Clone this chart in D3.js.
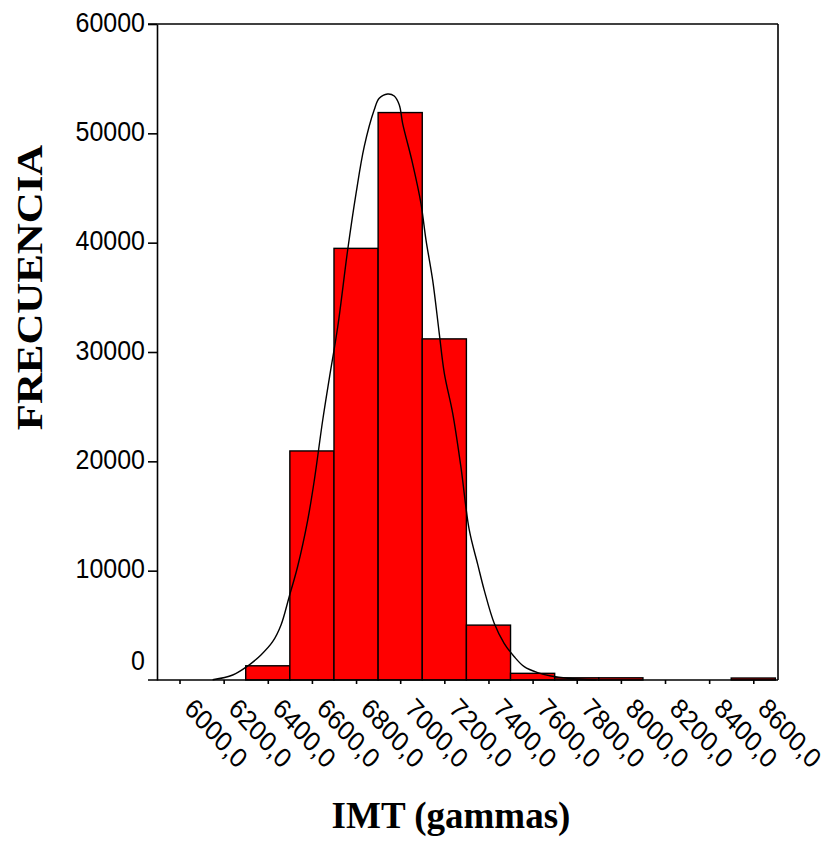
<!DOCTYPE html>
<html>
<head>
<meta charset="utf-8">
<script src="https://cdn.jsdelivr.net/npm/d3@7"></script>
<style>
  body { margin: 0; background: #fff; }
  svg { display: block; }
  .tick line { stroke: #000; stroke-width: 1.6; }
</style>
</head>
<body>
<svg id="chart" width="828" height="843"></svg>
<script>
// bin centres (IMT, gammas) and counts per bin
var binCenters = [6400, 6600, 6800, 7000, 7200, 7400, 7600, 7800, 8000, 8200, 8400, 8600];
var binCounts  = [1300, 20950, 39480, 51900, 31200, 5020, 610, 200, 200, 0, 0, 180];
var binWidth = 200;

// fitted normal curve
var curveX = [6150, 6241, 6309, 6369, 6422, 6460, 6497, 6535, 6581, 6611, 6649, 6679, 6717, 6762,
              6800, 6837, 6882, 6905, 6943, 6973, 6996, 7011, 7056, 7094, 7117, 7147, 7177, 7200,
              7238, 7275, 7313, 7351, 7381, 7426, 7471, 7517, 7562, 7623, 7683, 7759, 7890];
var curveY = [20, 457, 1280, 2290, 3500, 5030, 7620, 10360, 14630, 18290, 23780, 27620, 32310, 39330,
              44510, 48780, 52130, 53200, 53600, 53420, 52600, 50920, 47260, 43600, 40240, 36590, 31710, 28050,
              24390, 19510, 13720, 10600, 8200, 5190, 3360, 2130, 1220, 670, 370, 160, 20];

// axis ticks
var xTicks = [6000, 6200, 6400, 6600, 6800, 7000, 7200, 7400, 7600, 7800, 8000, 8200, 8400, 8600];
var yTicks = [0, 10000, 20000, 30000, 40000, 50000, 60000];

var svg = d3.select("#chart");
var plotLeft = 157, plotRight = 778, plotTop = 24, plotBottom = 680;

var x = d3.scaleLinear().domain([5898, 8712]).range([plotLeft, plotRight]);
var y = d3.scaleLinear().domain([0, 60000]).range([plotBottom, plotTop]);

// bars
svg.append("g").selectAll("rect")
    .data(binCenters)
  .enter().append("rect")
    .attr("x", function(d) { return x(d - binWidth / 2); })
    .attr("width", function(d) { return x(d + binWidth / 2) - x(d - binWidth / 2); })
    .attr("y", function(d, i) { return y(binCounts[i]); })
    .attr("height", function(d, i) { return y(0) - y(binCounts[i]); })
    .attr("fill", "#ff0000")
    .attr("stroke", "#000")
    .attr("stroke-width", 1.4)
    .style("display", function(d, i) { return binCounts[i] > 0 ? null : "none"; });

// normal curve
var line = d3.line()
    .x(function(d) { return x(d); })
    .y(function(d, i) { return y(curveY[i]); })
    .curve(d3.curveCatmullRom);
svg.append("path")
    .attr("d", line(curveX))
    .attr("fill", "none")
    .attr("stroke", "#000")
    .attr("stroke-width", 1.4);

// frame
var frame = svg.append("g").attr("stroke", "#000").attr("stroke-width", 1.6);
frame.append("line").attr("x1", 148).attr("x2", plotRight).attr("y1", plotTop).attr("y2", plotTop);
frame.append("line").attr("x1", 148).attr("x2", plotRight).attr("y1", plotBottom).attr("y2", plotBottom);
frame.append("line").attr("x1", plotRight).attr("x2", plotRight).attr("y1", plotTop).attr("y2", plotBottom);

// y axis
var yAxis = svg.append("g")
    .attr("transform", "translate(" + plotLeft + ",0)")
    .call(d3.axisLeft(y).tickValues(yTicks).tickSize(9).tickSizeOuter(0).tickPadding(3)
        .tickFormat(function(d) { return String(d); }));
yAxis.select(".domain").attr("stroke", "#000").attr("stroke-width", 1.6);
yAxis.selectAll("text")
    .attr("font-family", "'Liberation Sans', Arial, sans-serif")
    .attr("font-size", 25)
    .attr("fill", "#000")
    .attr("dy", "0.26em")
    .attr("transform", function(d) { return (d === 0 ? "translate(0,-18) " : "") + "scale(1,1.11)"; });
yAxis.selectAll(".tick line").style("display", function(d) { return d === 0 ? "none" : null; });

// x axis
var xAxis = svg.append("g")
    .attr("transform", "translate(0," + plotBottom + ")")
    .call(d3.axisBottom(x).tickValues(xTicks).tickSize(4).tickSizeOuter(0)
        .tickFormat(function(d) { return d + ",0"; }));
xAxis.select(".domain").remove();
xAxis.selectAll("text")
    .attr("font-family", "'Liberation Sans', Arial, sans-serif")
    .attr("font-size", 25)
    .attr("fill", "#000")
    .attr("text-anchor", "start")
    .attr("x", null).attr("y", null).attr("dy", null)
    .attr("transform", "translate(3,30) scale(1,1.11) rotate(45)");

// axis titles
svg.append("text")
    .attr("transform", "translate(41.5,287.5) scale(1,1.19) rotate(-90)")
    .attr("text-anchor", "middle")
    .attr("font-family", "'Liberation Serif', 'Times New Roman', serif")
    .attr("font-weight", "bold")
    .attr("font-size", 36)
    .text("FRECUENCIA");

svg.append("text")
    .attr("x", 451)
    .attr("y", 828)
    .attr("text-anchor", "middle")
    .attr("font-family", "'Liberation Serif', 'Times New Roman', serif")
    .attr("font-weight", "bold")
    .attr("font-size", 37)
    .text("IMT (gammas)");
</script>
</body>
</html>
